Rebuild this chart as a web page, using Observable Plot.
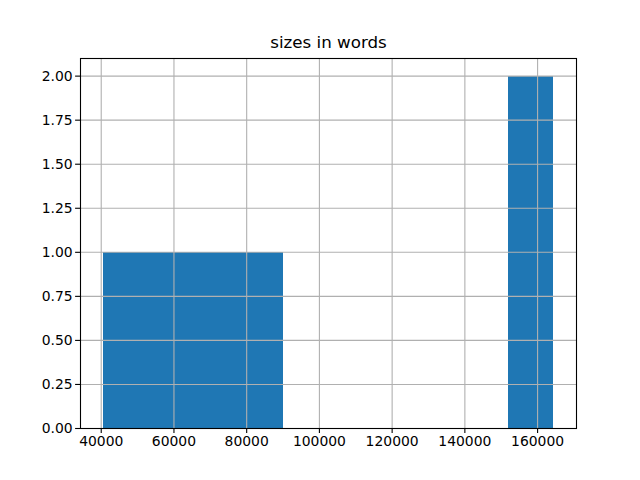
<!DOCTYPE html>
<html>
<head>
<meta charset="utf-8">
<script src="https://cdn.jsdelivr.net/npm/d3@7"></script>
<script src="https://cdn.jsdelivr.net/npm/@observablehq/plot@0.6"></script>
<style>
  html, body { margin: 0; padding: 0; background: #fff; }
  svg { font-family: "DejaVu Sans", sans-serif; }
</style>
</head>
<body>
<div id="chart"></div>
<script>
const title = "sizes in words";
const binEdges = [40500, 52900, 65300, 77700, 90100, 102500, 114900, 127300, 139700, 152100, 164500];
const binCounts = [1, 1, 1, 1, 0, 0, 0, 0, 0, 2];
const xTicks = [40000, 60000, 80000, 100000, 120000, 140000, 160000];
const yTicks = [0, 0.25, 0.5, 0.75, 1.0, 1.25, 1.5, 1.75, 2.0];

const bins = binCounts.map((c, i) => ({x1: binEdges[i], x2: binEdges[i + 1], count: c}));
const span = binEdges[binEdges.length - 1] - binEdges[0];
const xDomain = [binEdges[0] - 0.05 * span, binEdges[binEdges.length - 1] + 0.05 * span];
const yDomain = [0, d3.max(binCounts) * 1.05];

const chart = Plot.plot({
  width: 640,
  height: 480,
  marginLeft: 80,
  marginRight: 64,
  marginTop: 58,
  marginBottom: 52,
  style: {fontFamily: "DejaVu Sans, sans-serif", fontSize: "13.9px", color: "#000", background: "#fff"},
  x: {domain: xDomain, label: null},
  y: {domain: yDomain, label: null},
  marks: [
    Plot.rectY(bins, {x1: "x1", x2: "x2", y1: 0, y2: "count", fill: "#1f77b4", shapeRendering: "crispEdges"}),
    Plot.gridX(xTicks, {stroke: "#b0b0b0", strokeOpacity: 1, strokeWidth: 1.1}),
    Plot.gridY(yTicks, {stroke: "#b0b0b0", strokeOpacity: 1, strokeWidth: 1.1}),
    Plot.axisX(xTicks, {tickFormat: d => String(d), tickSize: 4.9, tickPadding: 3, fontSize: 13.9, label: null, stroke: "#000", strokeWidth: 1.1, fill: "#000"}),
    Plot.axisY(yTicks, {tickFormat: d => d.toFixed(2), tickSize: 4.9, tickPadding: 3, fontSize: 13.9, label: null, stroke: "#000", strokeWidth: 1.1, fill: "#000"}),
    Plot.frame({stroke: "#000", strokeWidth: 1.1}),
    Plot.text([title], {frameAnchor: "top", dy: -11, lineAnchor: "bottom", text: d => d, fontSize: 16.7, fill: "#000"})
  ]
});
document.getElementById("chart").appendChild(chart);
</script>
</body>
</html>
